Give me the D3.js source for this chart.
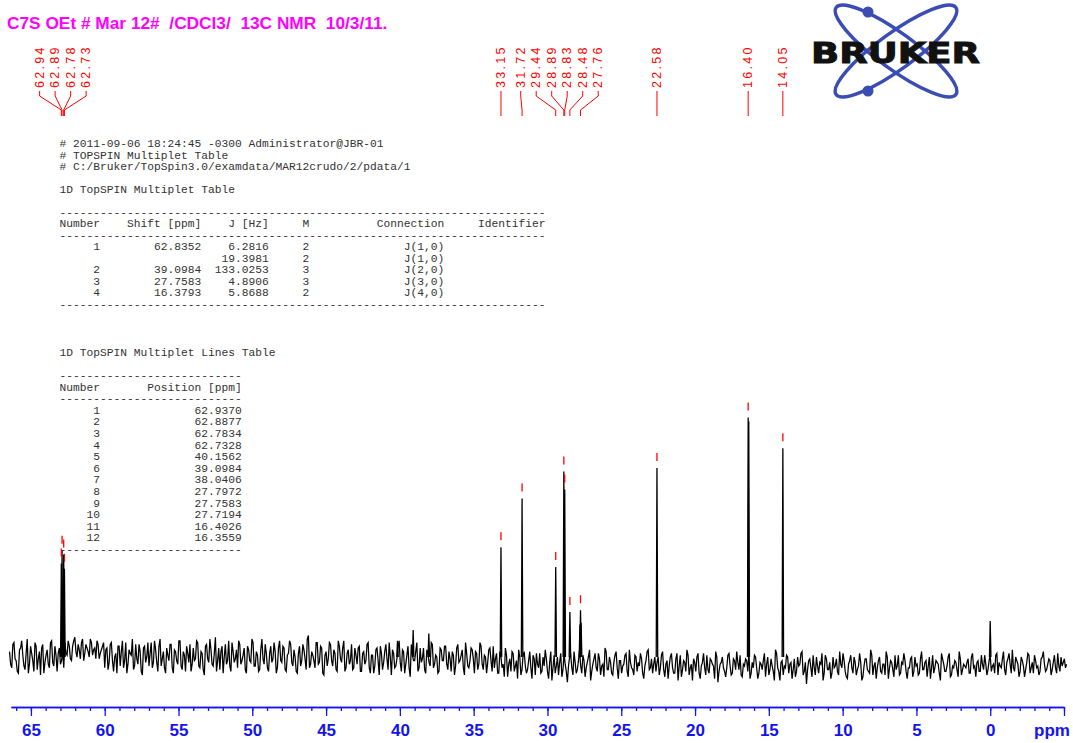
<!DOCTYPE html>
<html>
<head>
<meta charset="utf-8">
<script src="https://cdn.jsdelivr.net/npm/d3@7"></script>
<style>
  html, body { margin: 0; padding: 0; background: #fff; }
  svg { display: block; }
</style>
</head>
<body>
<div id="wrapper"></div>
<script>
/* global d3 */

// ---- data ----
const titleText = "C7S OEt # Mar 12#  /CDCl3/  13C NMR  10/3/11."

// peaks: position (ppm) and height (intensity, arbitrary units)
const peakPpm    = [62.94, 62.89, 62.78, 62.73, 40.16, 39.10, 38.04, 33.15, 31.72, 29.44, 28.89, 28.83, 28.48, 27.80, 27.76, 27.72, 22.58, 16.40, 16.36, 14.05, 0.00]
const peakHeight = [52,    59,    57,    49,    9,     15,    13,    61,    88,    50,    103,   93,    25,    18,    26,    19,    105,   133,   131,   116,   20]

// picked peaks that carry a label on top
const labelPpm = [62.94, 62.89, 62.78, 62.73, 33.15, 31.72, 29.44, 28.89, 28.83, 28.48, 27.76, 22.58, 16.40, 14.05]

// baseline noise, two interleaved readings every 0.15 ppm
const noiseStartA = 66.45
const noiseStartB = 66.375
const noiseStep = 0.15
const noiseA = [
  3,-6,8,-2,-9,5,1,-7,10,-4,2,-8,6,-1,-10,7,-3,4,-6,9,-5,1,
  2,-4,3,
  8,1,6,-2,9,3,7,-1,10,2,5,0,8,4,-1,7,2,6,
  -6,5,-3,8,-8,2,6,-5,9,-2,-9,4,1,-7,7,-4,3,-10,6,0,
  -5,8,-3,4,-8,10,-1,-6,5,-2,7,-9,3,-4,9,-7,1,6,-3,-8,
  5,-1,8,-6,2,-10,7,-3,4,-5,11,-2,-7,6,0,-4,9,-8,3,-1,
  -6,7,-2,5,-9,4,-3,8,-5,1,-7,10,-4,2,-8,6,-1,3,-6,9,
  -3,5,-8,2,7,-5,0,-9,6,-2,4,-7,12,-4,1,-6,8,-3,5,-10,
  3,-1,7,-5,2,-8,6,-3,9,-6,4,-2,-7,5,
  -4,6,-8,3,-2,8,-9,1,-5,5,-10,2,-3,7,-7,0,4,-6,-1,9,
  -8,3,-4,6,-11,1,-2,8,-6,-3,5,-9,2,-5,7,-4,0,-8,4,-2,
  6,-7,-1,3,-10,5,-3,1,-6,8,-5,-2,4,-9,2,-4,6,-7,0,-3,
  5,-8,
  -6,2,-9,0,-4,5,-11,-1,3,-8,-2,4,-10,1,-5,-7,3,-12,-1,2,
  -6,-9,0,4,-8,-3,-13,1,-5,-10,2,-7,-4,-14,0,-6,3,-9,-2,-5,
  1,-11,-3,4,-8,-1,-6,2,-10,-4,5,-7,0,-9,-3,3,-12,-2,-5,1,
  -8,4,-6,-10,0,-3,2,-9,-5,3,-7,-1,-4,
  -8,0,-6,3,-11,-2,-5,2,-9,-1,-13,1,-7,-3,4,-10,-4,-1,-8,2,
  -12,-3,-6,1,-9,-2,-5,3,-14,-4,0,-8,-6,2,-10,-1,-7,-3,1,-11,
  -5,-2,3,-9,-6,0,-12,-3,-7,2,-4,-10,-1,-8,4,-6,-13,-2,-5,1,
  -9,-3,-7,-11,0,-4,3,-8,-15,-2,-6,1,-10,-5,-3,2,-9,-1,-7,-12,
  0,-5,-8,3,-6,-2,-11,-4,1,-9,-3,-7,2,-13,-5,-1,-8,4,-10,-3,
  -6,0,-9,-4,3,-12,-2,-7,1,-5,-10,-3,2,-8,-6,-1,-11,0,-4,-9,
  3,-7,-2,-5,-12,1,-6,-3,-9,2,-4,-8,0,-11,-5,-2,-7,3,-10,-4,
  -6,-1,-9,2,-5,-3,-8,1,-7,-4,
  -7,1,-5,-9,2,-3,-6,3,-10,-1,-4,4,-8,-2,-11,0,-5,-7,2,-9,
  -3,1,-6,-10,-1,3,-8,-4,-2,-7,1,-9,-5,0,-3,-6
]
const noiseB = [
  -4,7,-1,-8,4,9,-5,2,-9,6,-2,8,-7,3,5,-9,1,-4,8,-3,6,-8,
  5,-2,-6,
  2,9,-1,6,11,0,4,8,-2,7,3,10,1,5,9,-1,4,8,
  4,-7,7,-2,0,-9,6,3,-6,8,-4,2,10,-5,-1,7,-8,5,-3,8,
  2,-6,9,-3,6,-5,3,-9,1,7,-6,4,-2,9,-5,3,-8,2,7,-4,
  -2,9,-5,3,-7,6,-1,10,-4,2,-8,5,3,-9,7,-2,-5,8,-3,4,
  9,-4,1,-7,6,-2,10,-5,3,-8,4,-1,7,-6,2,-3,8,-9,5,-2,
  6,-7,1,9,-3,4,-8,2,-5,7,-1,10,-6,3,-2,8,-4,6,-9,1,
  -5,8,-2,4,-7,9,-1,5,-8,2,-4,7,-6,1,
  5,-8,2,-4,7,-6,1,-9,4,-2,6,-7,3,-1,8,-10,2,-5,6,-3,
  4,-9,1,-6,7,-2,3,-8,5,-1,-7,4,-3,8,-6,1,-9,5,-2,6,
  -4,3,-8,1,-5,7,-2,4,-10,2,-6,5,-1,3,-7,8,-4,1,-9,4,
  -2,6,
  -1,-9,3,-6,-11,1,-4,-8,2,-5,-12,0,-7,3,-9,-2,-6,1,-10,-4,
  2,-8,-5,-1,-12,3,-6,-9,0,-3,-11,2,-8,-5,1,-10,-3,-7,4,-9,
  -2,-6,0,-13,-4,2,-8,-1,-5,-11,3,-7,-3,-10,1,-6,-2,-9,-4,2,
  -11,-3,-7,1,-8,-5,-1,-12,-2,4,-6,-9,0,
  -3,-10,1,-7,-4,-12,0,-6,-9,2,-5,-11,-2,-8,1,-6,-13,-3,0,-9,
  -5,2,-10,-7,-1,-4,-12,0,-8,-3,-6,-11,1,-5,-9,-2,3,-7,-10,-4,
  -1,-8,-12,-3,1,-6,-9,-4,-2,-11,0,-7,-5,-13,2,-8,-3,-10,-6,0,
  -4,-12,-1,-8,-5,2,-10,-3,-7,-1,-11,-6,0,-9,-4,-13,1,-7,-3,-9,
  -6,-1,-10,-4,2,-8,-12,-2,-6,0,-10,-5,-3,-11,-1,-7,-9,1,-5,-12,
  -2,-8,-4,-10,0,-6,-3,-11,-7,1,-9,-4,-2,-12,-6,0,-8,-5,-10,-1,
  -7,-3,-11,0,-6,-9,-2,-4,-13,-1,-8,-5,2,-10,-6,-3,-11,-1,-7,-5,
  -3,-9,0,-6,-11,-2,-8,-4,1,-10,
  -2,-8,-4,1,-10,-5,-1,-7,-3,2,-9,-6,0,-4,-8,-2,-11,-3,1,-6,
  -9,-2,-5,-8,0,-4,-7,-1,-10,-3,-6,2,-8,-5,-1,-4
]

// x axis ticks
const majorTicks = [65, 60, 55, 50, 45, 40, 35, 30, 25, 20, 15, 10, 5, 0, -5]
const minorTicks = d3.range(-5, 67, 1)

// text block: header + multiplet table
const headerLines = [
  "# 2011-09-06 18:24:45 -0300 Administrator@JBR-01",
  "# TOPSPIN Multiplet Table",
  "# C:/Bruker/TopSpin3.0/examdata/MAR12crudo/2/pdata/1"
]
const multNumber = ["1", "", "2", "3", "4"]
const multShift = ["62.8352", "", "39.0984", "27.7583", "16.3793"]
const multJ = ["6.2816", "19.3981", "133.0253", "4.8906", "5.8688"]
const multM = ["2", "2", "3", "3", "2"]
const multConn = ["J(1,0)", "J(1,0)", "J(2,0)", "J(3,0)", "J(4,0)"]

// multiplet lines table
const lineNumber = [1, 2, 3, 4, 5, 6, 7, 8, 9, 10, 11, 12]
const linePosition = ["62.9370", "62.8877", "62.7834", "62.7328", "40.1562", "39.0984",
  "38.0406", "27.7972", "27.7583", "27.7194", "16.4026", "16.3559"]

// ---- chart ----
const width = 1073
const height = 743

const svg = d3.select("#wrapper")
  .append("svg")
    .attr("width", width)
    .attr("height", height)

const x = d3.scaleLinear()
    .domain([66.35, -5.0])
    .range([11, 1064])

const y = d3.scaleLinear()
    .domain([0, 100])
    .range([657, 477])

// title
svg.append("text")
    .attr("x", 7)
    .attr("y", 29)
    .attr("fill", "#ff00ff")
    .style("font-family", "'Liberation Sans', Arial, sans-serif")
    .style("font-weight", "bold")
    .style("font-size", "17.3px")
    .style("white-space", "pre")
    .text(titleText)

// text tables
const mono = "'Liberation Mono', 'Courier New', monospace"
const dash72 = "-".repeat(72)
const table1 = [
  ...headerLines,
  "",
  "1D TopSPIN Multiplet Table",
  "",
  dash72,
  "Number" + "Shift [ppm]".padStart(15) + "J [Hz]".padStart(10) + "M".padStart(6)
    + "Connection".padStart(20) + "Identifier".padStart(15),
  dash72,
  ...multNumber.map((n, i) => n.padStart(6) + multShift[i].padStart(15) + multJ[i].padStart(10)
    + multM[i].padStart(6) + multConn[i].padStart(20)),
  dash72
]
const dash27 = "-".repeat(27)
const table2 = [
  "1D TopSPIN Multiplet Lines Table",
  "",
  dash27,
  "Number" + "Position [ppm]".padStart(21),
  dash27,
  ...lineNumber.map((n, i) => String(n).padStart(6) + linePosition[i].padStart(21)),
  dash27
]

function drawBlock(lines, top, step) {
  svg.append("g")
    .selectAll("text")
    .data(lines)
    .join("text")
      .attr("x", 59.5)
      .attr("y", (d, i) => top + i * step + 4)
      .attr("fill", "#333")
      .style("font-family", mono)
      .style("font-size", "11.25px")
      .style("white-space", "pre")
      .text(d => d)
}
drawBlock(table1, 143.3, 11.45)
drawBlock(table2, 351.7, 11.6)

// spectrum: noise trace (both readings merged in ppm order)
const noisePoints = noiseA.map((v, i) => [noiseStartA - i * noiseStep, v])
  .concat(noiseB.map((v, i) => [noiseStartB - i * noiseStep, v]))
  .sort((a, b) => b[0] - a[0])
const line = d3.line()
    .x(d => x(d[0]))
    .y(d => y(d[1]))

svg.append("path")
    .attr("d", line(noisePoints))
    .attr("fill", "none")
    .attr("stroke", "#000")
    .attr("stroke-width", 1.25)

// spectrum: peaks
svg.append("g")
  .selectAll("path")
  .data(peakPpm)
  .join("path")
    .attr("d", (p, i) => line([[p + 0.05, 0], [p, peakHeight[i]], [p - 0.05, 0]]))
    .attr("fill", "none")
    .attr("stroke", "#000")
    .attr("stroke-width", 1.3)

// peak pick markers
const labelTops = labelPpm.map(p => y(peakHeight[peakPpm.indexOf(p)]))
svg.append("g")
  .selectAll("line")
  .data(labelPpm)
  .join("line")
    .attr("x1", p => x(p))
    .attr("x2", p => x(p))
    .attr("y1", (p, i) => labelTops[i] - 15)
    .attr("y2", (p, i) => labelTops[i] - 7)
    .attr("stroke", "#ff0000")
    .attr("stroke-width", 1.3)

// label layout: spread crowded labels evenly round their mean position
const spacing = 15.5
let blocks = labelPpm.map((p, i) => ({ targets: [x(p)], idx: [i] }))
const place = b => {
  const n = b.targets.length
  b.start = d3.mean(b.targets) - (n - 1) * spacing / 2
  b.end = b.start + (n - 1) * spacing
}
blocks.forEach(place)
let merged = true
while (merged) {
  merged = false
  for (let i = 0; i < blocks.length - 1; i++) {
    if (blocks[i].end + spacing > blocks[i + 1].start) {
      const b = { targets: blocks[i].targets.concat(blocks[i + 1].targets), idx: blocks[i].idx.concat(blocks[i + 1].idx) }
      place(b)
      blocks.splice(i, 2, b)
      merged = true
      break
    }
  }
}
const labelX = []
blocks.forEach(b => b.idx.forEach((id, k) => { labelX[id] = b.start + k * spacing }))

const labels = svg.append("g")
labels.selectAll("text")
  .data(labelPpm)
  .join("text")
    .attr("transform", (p, i) => `translate(${labelX[i]},88) rotate(-90)`)
    .attr("dominant-baseline", "central")
    .attr("fill", "#ff0000")
    .style("font-family", "'Liberation Sans', Arial, sans-serif")
    .style("font-size", "12.5px")
    .style("letter-spacing", "2.3px")
    .text(d3.format(".2f"))

labels.selectAll("path")
  .data(labelPpm)
  .join("path")
    .attr("d", (p, i) => {
      const lx = labelX[i], px = x(p)
      return Math.abs(lx - px) < 0.5
        ? `M${px},91V116`
        : `M${lx},91V96L${px},110V116`
    })
    .attr("fill", "none")
    .attr("stroke", "#ff0000")
    .attr("stroke-width", 1)

// x axis
const axisG = svg.append("g")
    .attr("transform", "translate(0,707)")
axisG.append("g")
    .call(d3.axisBottom(x).tickValues(minorTicks).tickSize(4).tickSizeOuter(0).tickFormat(""))
axisG.append("g")
    .call(d3.axisBottom(x).tickValues(majorTicks).tickSize(9).tickSizeOuter(0)
      .tickFormat(d => d < 0 ? "" : d))
axisG.selectAll("path, line")
    .attr("stroke", "#1414f0")
    .attr("stroke-width", 1.3)
axisG.selectAll("text")
    .attr("y", 29)
    .attr("dy", null)
    .attr("fill", "#1414f0")
    .style("font-family", "'Liberation Sans', Arial, sans-serif")
    .style("font-weight", "bold")
    .style("font-size", "17px")
svg.append("text")
    .attr("x", 1052)
    .attr("y", 736)
    .attr("text-anchor", "middle")
    .attr("fill", "#1414f0")
    .style("font-family", "'Liberation Sans', Arial, sans-serif")
    .style("font-weight", "bold")
    .style("font-size", "17px")
    .text("ppm")

// Bruker logo
const logo = svg.append("g")
const logoBlue = "#3b4cb4"
;[36, -36].forEach(a => {
  logo.append("ellipse")
      .attr("cx", 896)
      .attr("cy", 51)
      .attr("rx", 74)
      .attr("ry", 18)
      .attr("transform", `rotate(${a},896,51)`)
      .attr("fill", "none")
      .attr("stroke", logoBlue)
      .attr("stroke-width", 3.5)
})
;[[868, 12], [868, 91]].forEach(([cx, cy]) => {
  logo.append("circle")
      .attr("cx", cx)
      .attr("cy", cy)
      .attr("r", 5.5)
      .attr("fill", logoBlue)
})
logo.append("text")
    .attr("x", 811)
    .attr("y", 63)
    .attr("textLength", 169)
    .attr("lengthAdjust", "spacingAndGlyphs")
    .attr("fill", "#111")
    .attr("stroke", "#111")
    .attr("stroke-width", 1)
    .style("font-family", "'DejaVu Sans', Arial, sans-serif")
    .style("font-weight", "bold")
    .style("font-size", "29px")
    .text("BRUKER")
</script>
</body>
</html>
